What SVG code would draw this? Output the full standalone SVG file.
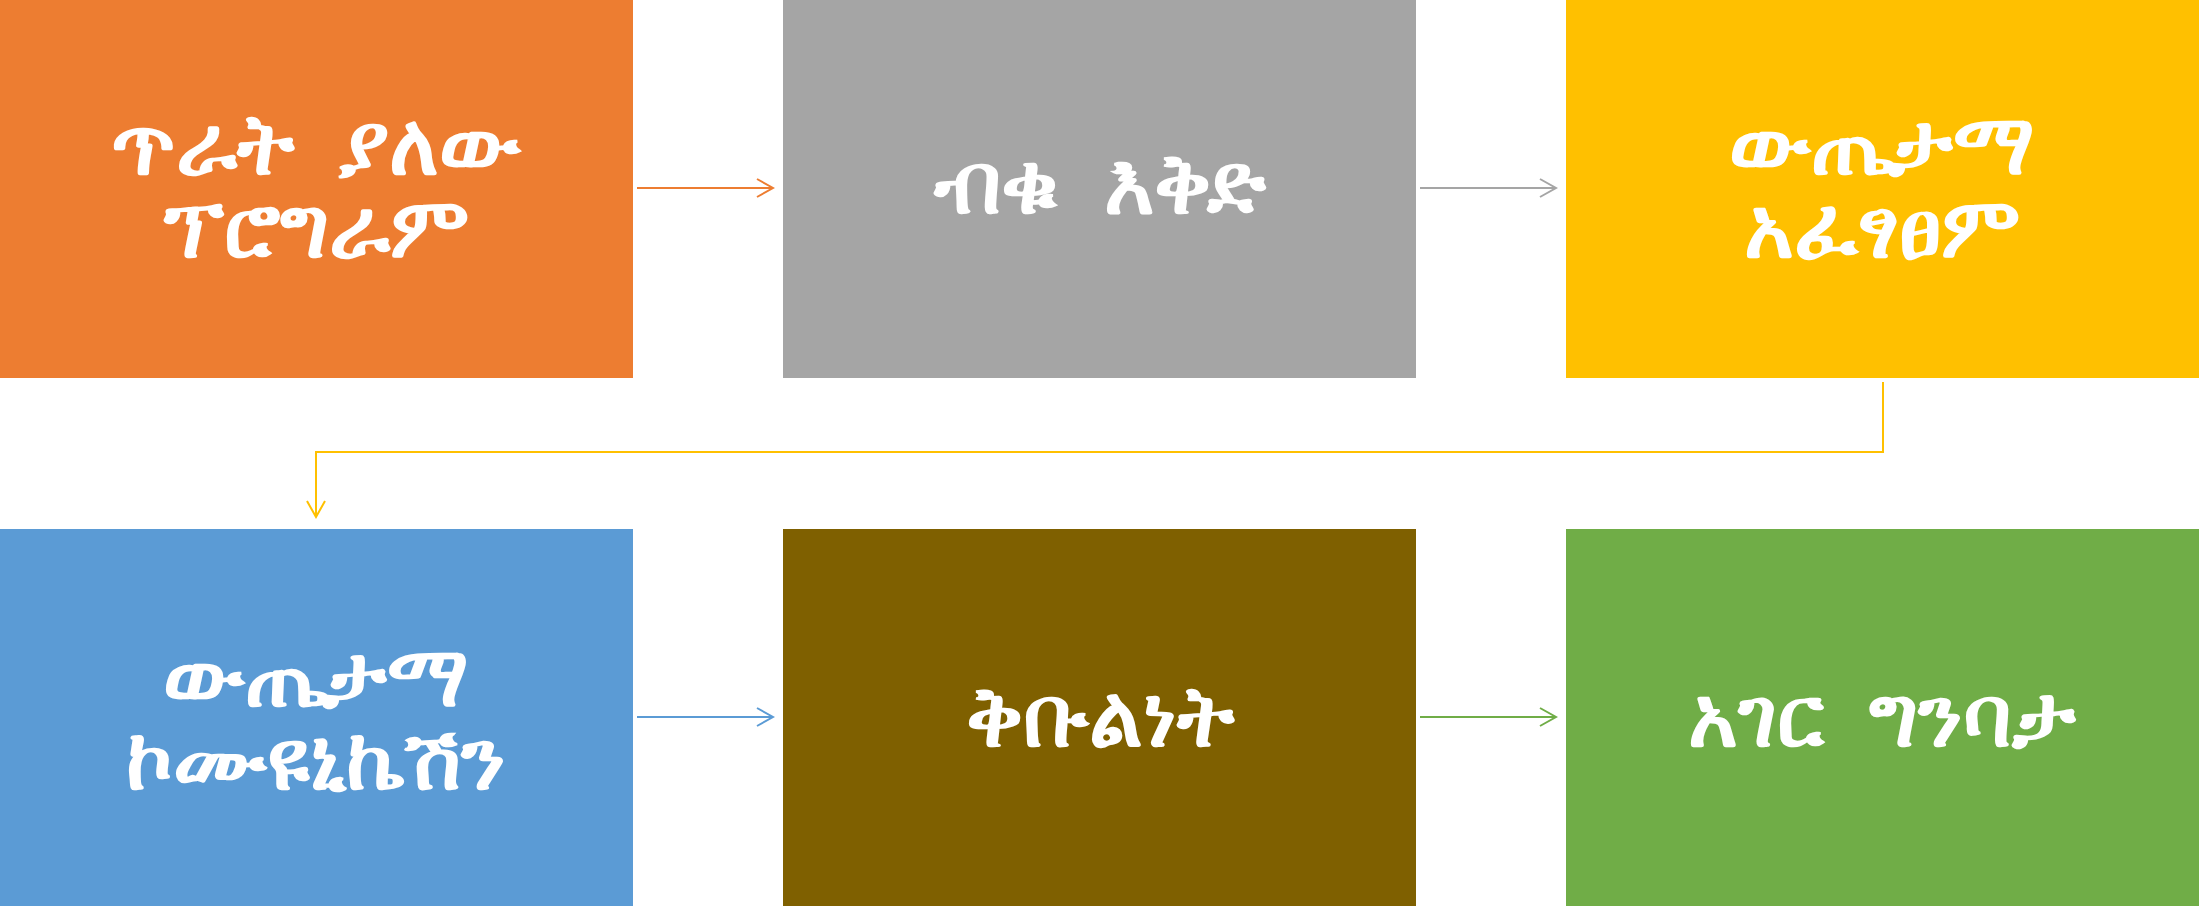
<svg xmlns="http://www.w3.org/2000/svg" width="2199" height="906" viewBox="0 0 2199 906">
<defs>
<style>
.lbl{font-family:"Noto Sans","DejaVu Sans","Liberation Sans",sans-serif;font-size:85px;font-weight:bold;fill:#FFFFFF;text-anchor:middle;dominant-baseline:central;white-space:pre}
.c{fill:none;stroke-width:2}
</style>
<marker id="aO" viewBox="0 0 20 20" refX="18" refY="10" markerWidth="20" markerHeight="20" markerUnits="userSpaceOnUse" orient="auto"><path d="M2,1 L18,10 L2,19" fill="none" stroke="#ED7D31" stroke-width="2"/></marker>
<marker id="aG" viewBox="0 0 20 20" refX="18" refY="10" markerWidth="20" markerHeight="20" markerUnits="userSpaceOnUse" orient="auto"><path d="M2,1 L18,10 L2,19" fill="none" stroke="#A5A5A5" stroke-width="2"/></marker>
<marker id="aY" viewBox="0 0 20 20" refX="18" refY="10" markerWidth="20" markerHeight="20" markerUnits="userSpaceOnUse" orient="auto"><path d="M2,1 L18,10 L2,19" fill="none" stroke="#FFC000" stroke-width="2"/></marker>
<marker id="aB" viewBox="0 0 20 20" refX="18" refY="10" markerWidth="20" markerHeight="20" markerUnits="userSpaceOnUse" orient="auto"><path d="M2,1 L18,10 L2,19" fill="none" stroke="#5B9BD5" stroke-width="2"/></marker>
<marker id="aN" viewBox="0 0 20 20" refX="18" refY="10" markerWidth="20" markerHeight="20" markerUnits="userSpaceOnUse" orient="auto"><path d="M2,1 L18,10 L2,19" fill="none" stroke="#70AD47" stroke-width="2"/></marker>
</defs>
<rect width="2199" height="906" fill="#FFFFFF"/>
<g id="n1"><rect x="0" y="0" width="633" height="378" fill="#ED7D31"/><text class="lbl" xml:space="preserve"><tspan x="316" y="141">ጥራት  ያለው</tspan><tspan x="316" y="224">ፕሮግራም</tspan></text></g>
<g id="n2"><rect x="783" y="0" width="633" height="378" fill="#A5A5A5"/><text class="lbl" x="1100" y="180" xml:space="preserve">ብቁ  እቅድ</text></g>
<g id="n3"><rect x="1566" y="0" width="633" height="378" fill="#FFC000"/><text class="lbl"><tspan x="1882" y="141">ውጤታማ</tspan><tspan x="1882" y="224">አፈፃፀም</tspan></text></g>
<g id="n4"><rect x="0" y="529" width="633" height="377" fill="#5B9BD5"/><text class="lbl"><tspan x="316" y="673">ውጤታማ</tspan><tspan x="316" y="756">ኮሙዩኒኬሽን</tspan></text></g>
<g id="n5"><rect x="783" y="529" width="633" height="377" fill="#7F6000"/><text class="lbl" x="1100" y="713">ቅቡልነት</text></g>
<g id="n6"><rect x="1566" y="529" width="633" height="377" fill="#70AD47"/><text class="lbl" x="1882" y="713" xml:space="preserve">አገር  ግንባታ</text></g>
<g id="connectors">
<path class="c" d="M637,188 L773,188" stroke="#ED7D31" marker-end="url(#aO)"/>
<path class="c" d="M1420,188 L1556,188" stroke="#A5A5A5" marker-end="url(#aG)"/>
<path class="c" d="M1883,382 L1883,452 L316,452 L316,517" stroke="#FFC000" marker-end="url(#aY)"/>
<path class="c" d="M637,717 L773,717" stroke="#5B9BD5" marker-end="url(#aB)"/>
<path class="c" d="M1420,717 L1556,717" stroke="#70AD47" marker-end="url(#aN)"/>
</g>
</svg>
